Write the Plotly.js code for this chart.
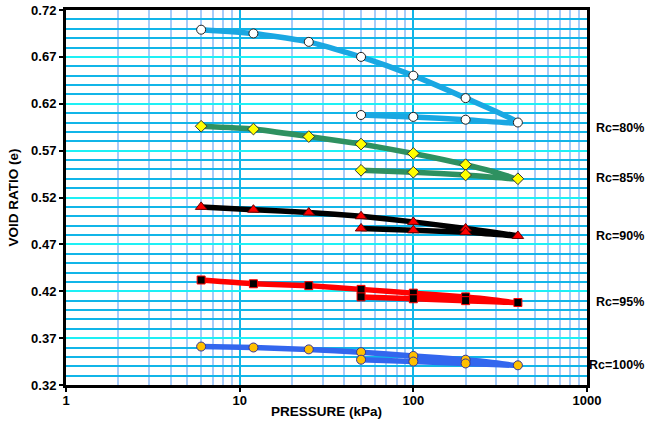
<!DOCTYPE html>
<html>
<head>
<meta charset="utf-8">
<script src="https://cdn.plot.ly/plotly-3.0.1.min.js"></script>
<style>html,body{margin:0;padding:0;background:#fff;}#chart{width:648px;height:429px;}</style>
</head>
<body>
<div id="chart"></div>
<script>
// Pressure steps (kPa): loading then unloading
const pressure = [6, 12, 25, 50, 100, 200, 400, 200, 100, 50];

const seriesNames = ["Rc=80%", "Rc=85%", "Rc=90%", "Rc=95%", "Rc=100%"];
const e80  = [0.699, 0.695, 0.686, 0.670, 0.650, 0.626, 0.600, 0.603, 0.606, 0.608];
const e85  = [0.596, 0.593, 0.585, 0.577, 0.567, 0.555, 0.540, 0.544, 0.547, 0.549];
const e90  = [0.510, 0.507, 0.504, 0.500, 0.494, 0.487, 0.479, 0.483, 0.485, 0.487];
const e95  = [0.432, 0.428, 0.426, 0.422, 0.418, 0.414, 0.408, 0.410, 0.412, 0.414];
const e100 = [0.361, 0.360, 0.358, 0.355, 0.351, 0.347, 0.341, 0.343, 0.345, 0.347];

const yTickVals = [0.32, 0.37, 0.42, 0.47, 0.52, 0.57, 0.62, 0.67, 0.72];
const yTickText = ["0.32", "0.37", "0.42", "0.47", "0.52", "0.57", "0.62", "0.67", "0.72"];
const xTickVals = [1, 10, 100, 1000];
const xTickText = ["1", "10", "100", "1000"];

const styles = [
  {line: "#1AA7E2", sym: "circle",       fill: "#FFFFFF", edge: "#222222", size: 9},
  {line: "#2E9160", sym: "diamond",      fill: "#FFFF00", edge: "#333333", size: 9},
  {line: "#000000", sym: "triangle-up",  fill: "#FF0000", edge: "#660000", size: 10},
  {line: "#FF0000", sym: "square",       fill: "#000000", edge: "#FF0000", size: 8},
  {line: "#3366EE", sym: "circle",       fill: "#FFC000", edge: "#333399", size: 9}
];
const allY = [e80, e85, e90, e95, e100];

const traces = allY.map((ys, i) => ({
  x: pressure, y: ys, type: "scatter", mode: "lines+markers", name: seriesNames[i],
  line: {color: styles[i].line, width: 5.5, shape: "spline", smoothing: 0.5},
  marker: {symbol: styles[i].sym, color: styles[i].fill, size: styles[i].size,
           line: {color: styles[i].edge, width: 1}},
  showlegend: false, cliponaxis: false
}));

// Right-side labels at each series' final point level
const labelY = [0.594, 0.541, 0.479, 0.4085, 0.3413];
const annotations = seriesNames.map((n, i) => ({
  text: "<b>" + n + "</b>", xref: "paper", x: 1.113, yref: "y", y: labelY[i],
  showarrow: false, xanchor: "right", yanchor: "middle",
  font: {family: "Liberation Sans, Arial, sans-serif", size: 12.5, color: "#000"}
}));

const layout = {
  width: 648, height: 429,
  margin: {l: 66, r: 61, t: 10, b: 44},
  paper_bgcolor: "#fff", plot_bgcolor: "#fff",
  font: {family: "Liberation Sans, Arial, sans-serif", size: 13, color: "#000"},
  xaxis: {
    type: "log", range: [0, 3],
    tickvals: xTickVals, ticktext: xTickText.map(t => "<b>" + t + "</b>"),
    ticks: "outside", ticklen: 4, tickwidth: 2, tickcolor: "#000",
    ticklabelstandoff: -3,
    showgrid: true, gridcolor: "#11B5E8", gridwidth: 2,
    minor: {showgrid: true, gridcolor: "#A6CCFA", gridwidth: 2, dtick: "D1", ticks: ""},
    showline: true, linecolor: "#000", linewidth: 3, mirror: true,
    zeroline: false,
    tickfont: {size: 13},
    title: {text: "<b>PRESSURE (kPa)</b>", font: {size: 13.5}, standoff: 0}
  },
  yaxis: {
    range: [0.32, 0.72],
    tickvals: yTickVals, ticktext: yTickText.map(t => "<b>" + t + "</b>"),
    ticks: "outside", ticklen: 4, tickwidth: 2, tickcolor: "#000",
    showgrid: true, gridcolor: "#1EF0F5", gridwidth: 2,
    minor: {showgrid: true, gridcolor: "#11B5E8", gridwidth: 2, dtick: 0.01, tick0: 0.32, ticks: ""},
    showline: true, linecolor: "#000", linewidth: 3, mirror: true,
    zeroline: false,
    tickfont: {size: 13},
    title: {text: "<b>VOID RATIO (e)</b>", font: {size: 13.5}, standoff: 10}
  },
  annotations: annotations,
  showlegend: false
};

Plotly.newPlot("chart", traces, layout, {staticPlot: true, displayModeBar: false});
</script>
</body>
</html>
